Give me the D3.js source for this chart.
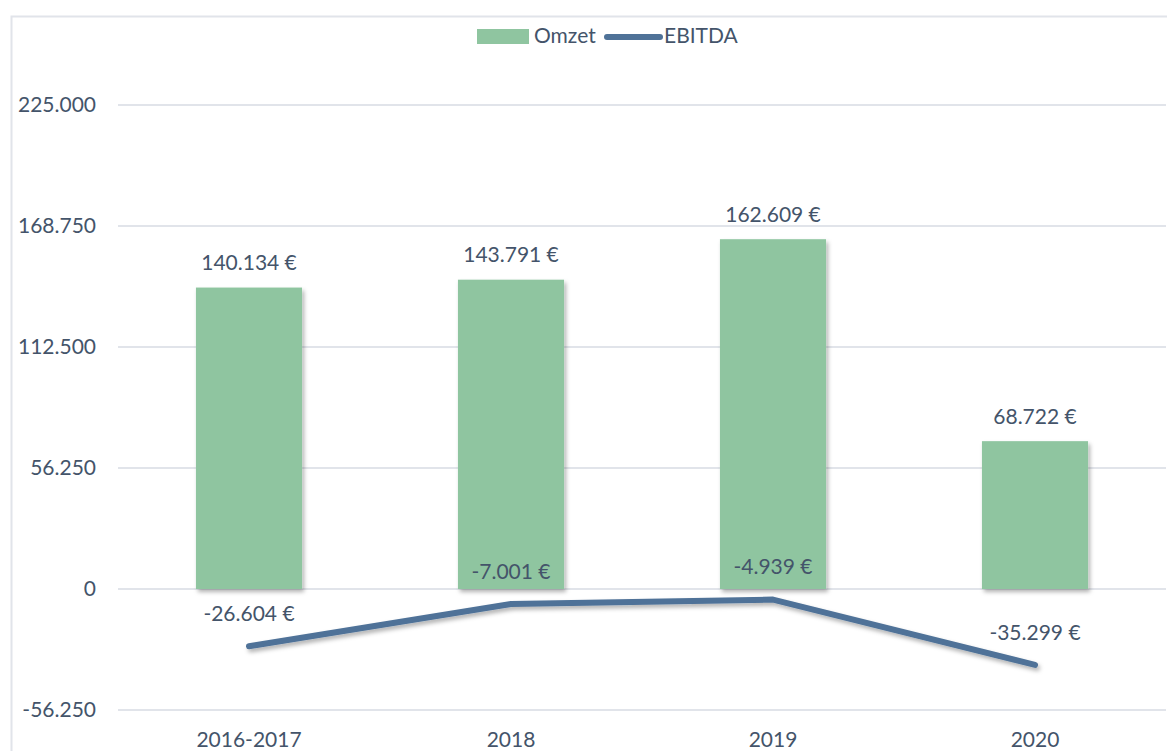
<!DOCTYPE html>
<html><head><meta charset="utf-8">
<script src="https://cdn.jsdelivr.net/npm/d3@7"></script>
<style>body{margin:0;background:#fff;} svg{display:block;}</style>
</head><body>
<svg id="c" width="1167" height="751"></svg>
<script>
const categories = ["2016-2017", "2018", "2019", "2020"];
const omzet = [140134, 143791, 162609, 68722];
const ebitda = [-26604, -7001, -4939, -35299];
const tickValues = [-56250, 0, 56250, 112500, 168750, 225000];
const tickLabels = ["-56.250", "0", "56.250", "112.500", "168.750", "225.000"];
const seriesNames = ["Omzet", "EBITDA"];

const barColor = "#8fc5a0", lineColor = "#4f7298", textColor = "#44546a", gridColor = "#e1e4ea";
const font = "Lato, 'Open Sans', sans-serif";
const fs = 21;
const svg = d3.select("#c");

const defs = svg.append("defs");
const f = defs.append("filter").attr("id","sh").attr("x","-20%").attr("y","-20%").attr("width","140%").attr("height","140%");
f.append("feDropShadow").attr("dx",2).attr("dy",3).attr("stdDeviation",2).attr("flood-color","#000").attr("flood-opacity",0.3);

// frame
svg.append("path").attr("d","M11.5,751 L11.5,16.5 L1167,16.5").attr("fill","none").attr("stroke",gridColor).attr("stroke-width",2);

const x = d3.scaleBand().domain(categories).range([118,1166]).paddingInner(0.595).paddingOuter(0.2975);
const xc = d => x(d) + x.bandwidth()/2;
const y = d3.scaleLinear().domain([-56250,225000]).range([710,105]);

// y axis labels
const yAxis = d3.axisLeft(y).tickValues(tickValues).tickFormat((d,i)=>tickLabels[i]).tickSize(0).tickPadding(0);
const ga = svg.append("g").attr("transform","translate(96,0)").call(yAxis);
ga.select(".domain").remove();
ga.selectAll("text").attr("font-family",font).attr("font-size",fs).attr("fill",textColor).attr("dy","0.32em");

// grid
svg.append("g").selectAll("line").data(tickValues).join("line")
  .attr("x1",118).attr("x2",1166).attr("y1",d=>y(d)).attr("y2",d=>y(d))
  .attr("stroke",gridColor).attr("stroke-width",2);

// bars
svg.append("g").selectAll("rect").data(omzet).join("rect")
  .attr("x",(d,i)=>x(categories[i])).attr("width",x.bandwidth())
  .attr("y",d=>y(d)).attr("height",d=>y(0)-y(d))
  .attr("fill",barColor).attr("filter","url(#sh)");

// line
const line = d3.line().x((d,i)=>xc(categories[i])).y(d=>y(d));
svg.append("path").datum(ebitda).attr("d",line).attr("fill","none")
  .attr("stroke",lineColor).attr("stroke-width",6).attr("stroke-linecap","round").attr("stroke-linejoin","round")
  .attr("filter","url(#sh)");

const fmt = v => d3.format(",")(v).replace(/,/g,".").replace("−","-") + " €";

// labels
svg.append("g").selectAll("text").data(omzet).join("text")
  .attr("x",(d,i)=>xc(categories[i])).attr("y",d=>y(d)-24)
  .attr("text-anchor","middle").attr("dy","0.32em")
  .attr("font-family",font).attr("font-size",fs).attr("fill",textColor)
  .text(fmt);
svg.append("g").selectAll("text").data(ebitda).join("text")
  .attr("x",(d,i)=>xc(categories[i])).attr("y",d=>y(d)-32)
  .attr("text-anchor","middle").attr("dy","0.32em")
  .attr("font-family",font).attr("font-size",fs).attr("fill",textColor)
  .text(fmt);

// x axis labels
svg.append("g").selectAll("text").data(categories).join("text")
  .attr("x",d=>xc(d)).attr("y",740).attr("text-anchor","middle").attr("dy","0.32em")
  .attr("font-family",font).attr("font-size",fs).attr("fill",textColor).text(d=>d);

// legend
const lg = svg.append("g");
lg.append("rect").attr("x",477).attr("y",29).attr("width",52).attr("height",15).attr("fill",barColor);
lg.append("text").attr("x",534).attr("y",36).attr("dy","0.32em").attr("font-family",font).attr("font-size",fs).attr("fill",textColor).text(seriesNames[0]);
lg.append("line").attr("x1",607).attr("x2",660).attr("y1",37).attr("y2",37).attr("stroke",lineColor).attr("stroke-width",6).attr("stroke-linecap","round");
lg.append("text").attr("x",664).attr("y",36).attr("dy","0.32em").attr("font-family",font).attr("font-size",fs).attr("fill",textColor).text(seriesNames[1]);
</script>
</body></html>
